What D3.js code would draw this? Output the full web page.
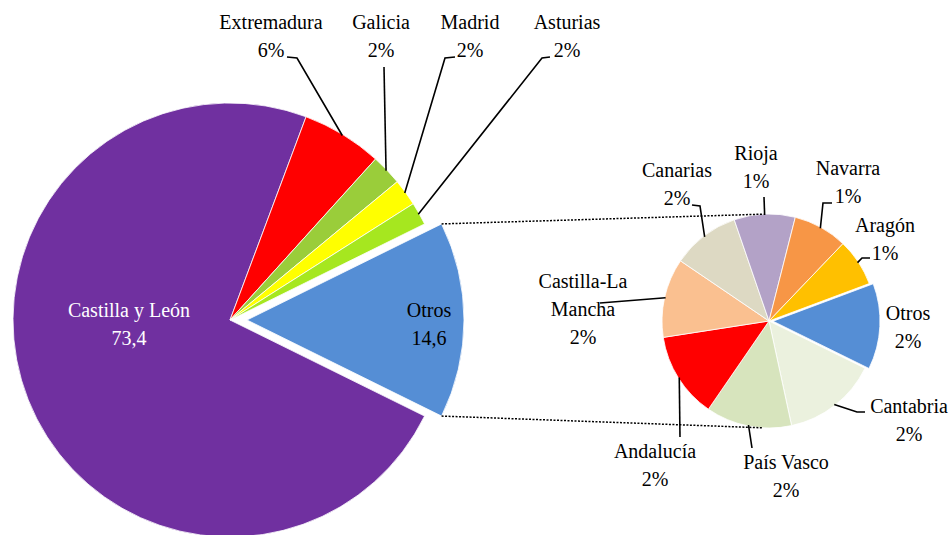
<!DOCTYPE html>
<html>
<head>
<meta charset="utf-8">
<script src="https://cdn.jsdelivr.net/npm/d3@7/dist/d3.min.js"></script>
<style>
  html, body { margin: 0; padding: 0; background: #fff; }
  svg { display: block; }
</style>
</head>
<body>
<svg id="chart" width="952" height="535"></svg>
<script>
// ---------- DATA ----------
const mainLabels = ["Castilla y León", "Extremadura", "Galicia", "Madrid", "Asturias", "Otros"];
const mainValues = [73.4, 6.0, 2.3, 2.0, 1.7, 14.6];
const mainValueText = ["73,4", "6%", "2%", "2%", "2%", "14,6"];
const mainColors = ["#7030A0", "#FF0000", "#9ACD3A", "#FFFF00", "#A6E71F", "#558ED5"];

const subLabels = ["Otros", "Cantabria", "País Vasco", "Andalucía", "Castilla-La Mancha", "Canarias", "Rioja", "Navarra", "Aragón"];
const subValues = [1.9, 2.1, 1.9, 1.9, 1.75, 1.5, 1.35, 1.2, 1.05];
const subValueText = ["2%", "2%", "2%", "2%", "2%", "2%", "1%", "1%", "1%"];
const subColors = ["#558ED5", "#EBF1DE", "#D7E4BD", "#FF0000", "#FAC090", "#DDD9C3", "#B3A2C7", "#F79646", "#FFC000"];

// ---------- LAYOUT ----------
const FONT = "'Liberation Serif', 'Times New Roman', serif";
const svg = d3.select("#chart");
const LH = 28;

const main = { cx: 230, cy: 320, r: 217, explode: 17, explodeIndex: 5 };
const sub = { cx: 769, cy: 321, r: 107, explode: 4, explodeIndex: 0 };

const mainLabelLayout = [
  { x: 129, y: 317, color: "#fff", leader: null },
  { x: 271, y: 29, leader: [[287, 57], [297, 58]] },
  { x: 381, y: 29, leader: [[384, 67]] },
  { x: 470, y: 29, leader: [[455, 57], [445, 58]] },
  { x: 567, y: 29, leader: [[550, 57], [542, 58]] },
  { x: 429, y: 317, leader: null }
];
const subLabelLayout = [
  { x: 908, y: 320, leader: null },
  { x: 909, y: 413, leader: [[865, 412], [857, 412]] },
  { x: 786, y: 469, leader: [[752, 448]] },
  { x: 655, y: 458, leader: [[680, 437]] },
  { x: 583, y: 288, lines: ["Castilla-La", "Mancha"], leader: [[600, 303]] },
  { x: 677, y: 177, leader: [[692, 205], [700, 206]] },
  { x: 756, y: 160, leader: [[764, 197]] },
  { x: 848, y: 175, leader: [[832, 203], [823, 203]] },
  { x: 885, y: 232, leader: [[870, 258], [862, 258]] }
];

function pieFor(values, idx, centerAngle) {
  const total = d3.sum(values);
  const before = d3.sum(values.slice(0, idx));
  const start = centerAngle - (before + values[idx] / 2) / total * 2 * Math.PI;
  return d3.pie().sort(null).value(d => d).startAngle(start).endAngle(start + 2 * Math.PI)(values);
}

function pt(cx, cy, r, a) { return [cx + r * Math.sin(a), cy - r * Math.cos(a)]; }

function drawPie(cfg, values, colors, centerAngle, labels, valueText, layout) {
  const arcs = pieFor(values, cfg.explodeIndex, centerAngle);
  const arc = d3.arc().innerRadius(0).outerRadius(cfg.r);
  const g = svg.append("g");
  arcs.forEach((d, i) => {
    const mid = (d.startAngle + d.endAngle) / 2;
    const off = i === cfg.explodeIndex ? cfg.explode : 0;
    const [ox, oy] = pt(0, 0, off, mid);
    g.append("path")
      .attr("d", arc(d))
      .attr("transform", `translate(${cfg.cx + ox},${cfg.cy + oy})`)
      .attr("fill", colors[i])
      .attr("stroke", "#fff")
      .attr("stroke-width", 0.8);
  });
  arcs.forEach((d, i) => {
    const L = layout[i];
    const mid = (d.startAngle + d.endAngle) / 2;
    if (L.leader) {
      const pts = L.leader.concat([pt(cfg.cx, cfg.cy, cfg.r - 1, mid)]);
      svg.append("path")
        .attr("d", d3.line()(pts))
        .attr("fill", "none")
        .attr("stroke", "#000")
        .attr("stroke-width", 1.6);
    }
    const lines = (L.lines || [labels[i]]).concat([valueText[i]]);
    const t = svg.append("text")
      .attr("text-anchor", "middle")
      .attr("font-family", FONT)
      .attr("font-size", 20)
      .attr("fill", L.color || "#000");
    lines.forEach((s, k) => {
      t.append("tspan").attr("x", L.x).attr("y", L.y + k * LH).text(s);
    });
  });
  return arcs;
}

const mainArcs = drawPie(main, mainValues, mainColors, Math.PI / 2, mainLabels, mainValueText, mainLabelLayout);
drawPie(sub, subValues, subColors, Math.PI / 2 + 0.05, subLabels, subValueText, subLabelLayout);

const od = mainArcs[main.explodeIndex];
const omid = (od.startAngle + od.endAngle) / 2;
const [eox, eoy] = pt(0, 0, main.explode, omid);
const c1 = pt(main.cx + eox, main.cy + eoy, main.r, od.startAngle);
const c2 = pt(main.cx + eox, main.cy + eoy, main.r, od.endAngle);
const s1 = pt(sub.cx, sub.cy, sub.r, -0.05);
const s2 = pt(sub.cx, sub.cy, sub.r, Math.PI + 0.06);
[[c1, s1], [c2, s2]].forEach(([a, b]) => {
  svg.append("line")
    .attr("x1", a[0]).attr("y1", a[1]).attr("x2", b[0]).attr("y2", b[1])
    .attr("stroke", "#000").attr("stroke-width", 1.5)
    .attr("stroke-dasharray", "2,1.5");
});
</script>
</body>
</html>
